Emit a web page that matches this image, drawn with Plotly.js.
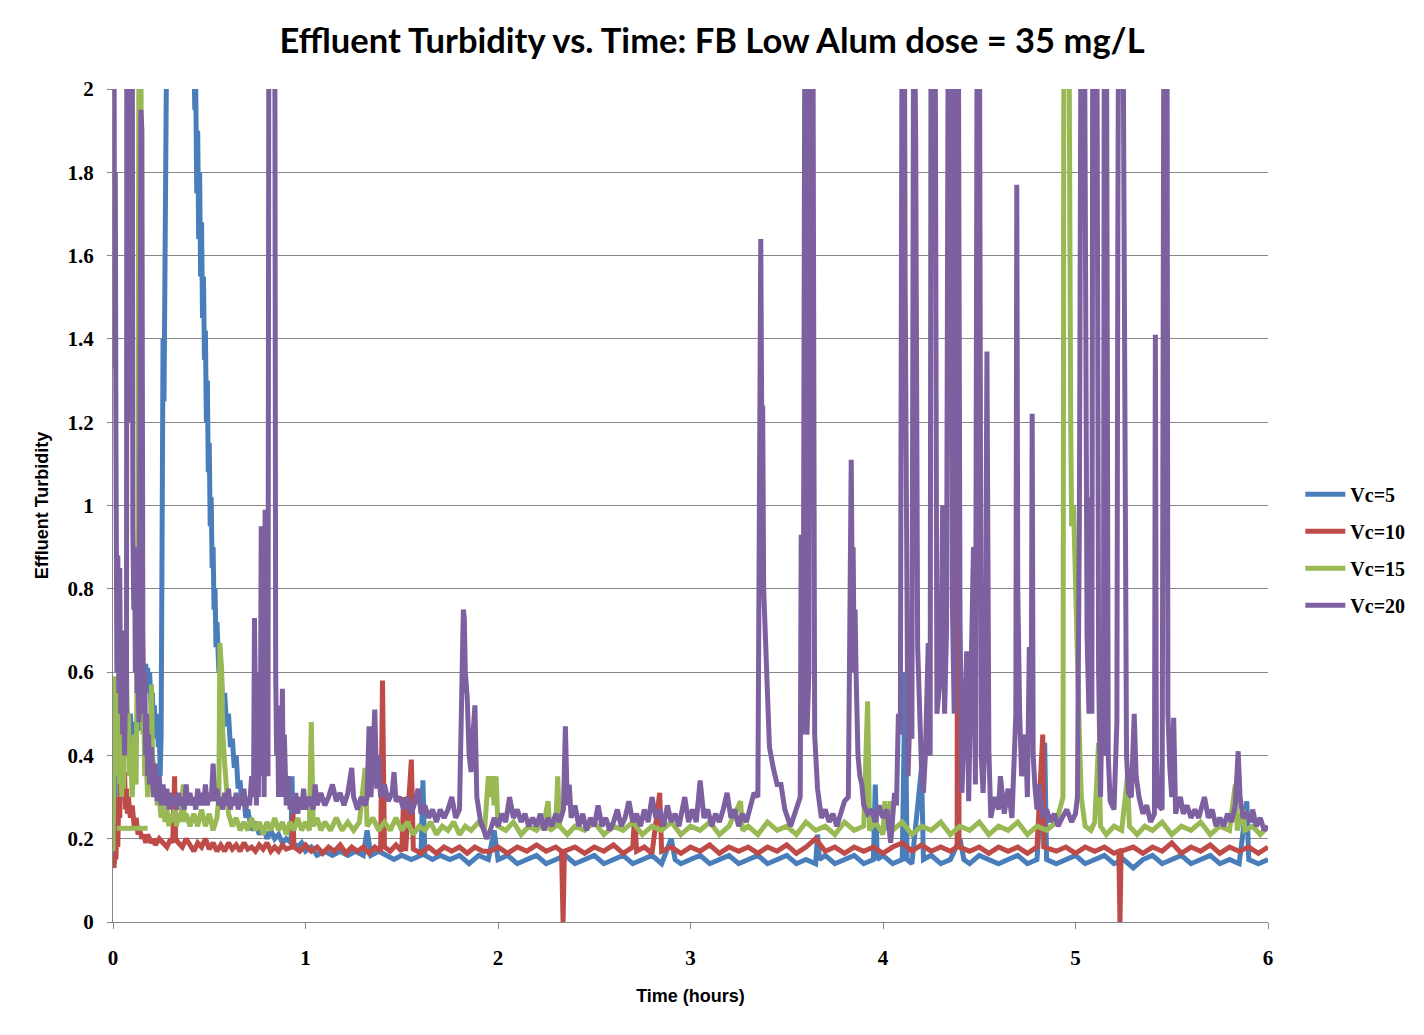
<!DOCTYPE html>
<html>
<head>
<meta charset="utf-8">
<title>Effluent Turbidity vs. Time</title>
<script src="https://cdn.plot.ly/plotly-3.0.1.min.js"></script>
<style>
  html, body { margin: 0; padding: 0; background: #ffffff; }
  #plot { width: 1424px; height: 1035px; }
</style>
</head>
<body>
<div id="plot"></div>
<script>
// Series names and colours (Excel 2007 palette)
const seriesNames = ['Vc=5', 'Vc=10', 'Vc=15', 'Vc=20']
const seriesColors = ['#4a7ebb', '#be4b48', '#98b954', '#7d60a0']

// Readings taken from the chart: [time (hours), effluent turbidity]
// values above 2 stand for spikes that run off the top of the axis
const vc5 = [
  [0,0.14],[0.01,0.3],[0.02,0.45],[0.03,0.5],[0.04,0.42],[0.05,0.55],[0.06,0.48],[0.07,0.52],
  [0.08,0.45],[0.09,0.5],[0.1,0.42],[0.11,0.48],[0.12,0.44],[0.13,0.5],[0.14,0.46],[0.15,0.52],
  [0.16,0.55],[0.17,0.62],[0.175,0.56],[0.18,0.61],[0.185,0.55],[0.19,0.6],[0.2,0.5],[0.205,0.55],
  [0.21,0.45],[0.215,0.52],[0.22,0.44],[0.23,0.5],[0.235,0.42],[0.24,0.48],[0.245,0.35],[0.25,0.45],
  [0.255,1.22],[0.26,1.4],[0.265,1.25],[0.27,1.5],[0.275,1.65],[0.28,2.2],[0.32,2.6],[0.38,2.6],
  [0.415,2.2],[0.42,2.0],[0.425,1.95],[0.43,2.0],[0.435,1.75],[0.44,1.9],[0.445,1.64],[0.45,1.8],
  [0.455,1.55],[0.46,1.68],[0.465,1.45],[0.47,1.55],[0.475,1.35],[0.48,1.42],[0.485,1.2],[0.49,1.3],
  [0.495,1.08],[0.5,1.15],[0.505,0.95],[0.51,1.02],[0.515,0.85],[0.52,0.9],[0.525,0.75],[0.53,0.8],
  [0.535,0.66],[0.54,0.72],[0.55,0.6],[0.56,0.62],[0.57,0.52],[0.58,0.55],[0.59,0.47],[0.6,0.5],
  [0.61,0.42],[0.62,0.44],[0.63,0.37],[0.64,0.4],[0.65,0.32],[0.66,0.34],[0.67,0.28],[0.68,0.3],
  [0.69,0.25],[0.7,0.27],[0.72,0.22],[0.74,0.24],[0.76,0.21],[0.78,0.23],[0.8,0.2],[0.82,0.22],
  [0.84,0.2],[0.86,0.21],[0.88,0.19],[0.9,0.2],[0.925,0.19],[0.93,0.35],[0.935,0.19],[0.96,0.18],
  [0.98,0.19],[1.0,0.17],[1.03,0.18],[1.06,0.16],[1.1,0.17],[1.14,0.16],[1.18,0.17],[1.22,0.16],
  [1.26,0.17],[1.3,0.16],[1.32,0.22],[1.34,0.16],[1.38,0.17],[1.42,0.16],[1.46,0.15],[1.5,0.16],
  [1.55,0.15],[1.6,0.16],[1.61,0.34],[1.62,0.16],[1.66,0.15],[1.7,0.16],[1.75,0.15],[1.8,0.16],
  [1.85,0.14],[1.9,0.16],[1.95,0.15],[1.98,0.22],[2.0,0.15],[2.05,0.16],[2.1,0.14],[2.15,0.15],
  [2.2,0.16],[2.25,0.14],[2.3,0.15],[2.35,0.16],[2.4,0.14],[2.45,0.15],[2.5,0.16],[2.55,0.14],
  [2.6,0.15],[2.65,0.16],[2.7,0.14],[2.75,0.15],[2.8,0.16],[2.85,0.14],[2.9,0.2],[2.92,0.15],
  [2.95,0.14],[3.0,0.15],[3.05,0.16],[3.1,0.14],[3.15,0.15],[3.2,0.16],[3.25,0.14],[3.3,0.15],
  [3.35,0.16],[3.4,0.14],[3.45,0.15],[3.5,0.16],[3.55,0.14],[3.6,0.15],[3.65,0.14],[3.66,0.21],
  [3.67,0.15],[3.7,0.16],[3.75,0.14],[3.8,0.15],[3.85,0.16],[3.9,0.14],[3.95,0.15],[3.96,0.33],
  [3.97,0.15],[4.0,0.16],[4.05,0.14],[4.1,0.15],[4.115,0.6],[4.125,0.15],[4.15,0.14],[4.2,0.37],
  [4.21,0.15],[4.25,0.16],[4.3,0.14],[4.35,0.15],[4.4,0.2],[4.42,0.15],[4.45,0.14],[4.5,0.16],
  [4.55,0.15],[4.6,0.14],[4.65,0.15],[4.7,0.16],[4.75,0.14],[4.8,0.15],[4.84,0.43],[4.85,0.15],
  [4.9,0.14],[4.95,0.15],[5.0,0.16],[5.05,0.14],[5.1,0.15],[5.15,0.16],[5.2,0.14],[5.25,0.15],
  [5.3,0.13],[5.35,0.15],[5.4,0.16],[5.45,0.14],[5.5,0.15],[5.55,0.16],[5.6,0.14],[5.65,0.15],
  [5.7,0.16],[5.75,0.14],[5.8,0.15],[5.85,0.14],[5.89,0.29],[5.9,0.15],[5.95,0.14],[6.0,0.15]
]

const vc10 = [
  [0,0.14],[0.005,0.13],[0.01,0.16],[0.015,0.15],[0.02,0.22],[0.025,0.18],[0.03,0.3],[0.035,0.25],
  [0.04,0.38],[0.045,0.32],[0.05,0.4],[0.055,0.3],[0.06,0.36],[0.065,0.27],[0.07,0.32],[0.075,0.26],
  [0.08,0.3],[0.09,0.25],[0.1,0.28],[0.11,0.23],[0.12,0.25],[0.13,0.21],[0.14,0.22],[0.15,0.2],
  [0.16,0.21],[0.17,0.19],[0.18,0.21],[0.19,0.2],[0.2,0.19],[0.21,0.2],[0.22,0.185],[0.24,0.2],
  [0.26,0.19],[0.28,0.18],[0.3,0.2],[0.31,0.19],[0.32,0.35],[0.325,0.2],[0.34,0.19],[0.36,0.18],
  [0.38,0.2],[0.4,0.185],[0.42,0.17],[0.44,0.19],[0.46,0.18],[0.48,0.2],[0.5,0.175],[0.52,0.19],
  [0.54,0.17],[0.56,0.185],[0.58,0.17],[0.6,0.19],[0.62,0.175],[0.64,0.185],[0.66,0.17],[0.68,0.19],
  [0.7,0.175],[0.72,0.18],[0.74,0.17],[0.76,0.185],[0.78,0.175],[0.8,0.19],[0.82,0.17],[0.84,0.18],
  [0.86,0.17],[0.88,0.185],[0.9,0.175],[0.93,0.18],[0.935,0.26],[0.94,0.18],[0.97,0.17],[1.0,0.185],
  [1.03,0.17],[1.06,0.18],[1.09,0.165],[1.12,0.18],[1.15,0.17],[1.18,0.185],[1.21,0.165],[1.24,0.18],
  [1.27,0.17],[1.3,0.18],[1.33,0.165],[1.36,0.18],[1.39,0.17],[1.4,0.58],[1.41,0.18],[1.44,0.17],
  [1.47,0.185],[1.5,0.17],[1.51,0.3],[1.52,0.17],[1.55,0.39],[1.56,0.175],[1.6,0.165],[1.64,0.18],
  [1.68,0.165],[1.72,0.18],[1.76,0.17],[1.8,0.18],[1.84,0.165],[1.88,0.18],[1.92,0.17],[1.96,0.17],
  [2.0,0.18],[2.05,0.165],[2.1,0.18],[2.15,0.17],[2.2,0.185],[2.25,0.17],[2.3,0.18],[2.33,0.17],
  [2.338,0.0],[2.345,0.17],[2.4,0.18],[2.45,0.165],[2.5,0.18],[2.55,0.17],[2.6,0.185],[2.65,0.165],
  [2.7,0.18],[2.71,0.26],[2.72,0.17],[2.76,0.18],[2.8,0.165],[2.84,0.31],[2.85,0.17],[2.9,0.18],
  [2.95,0.165],[3.0,0.18],[3.05,0.17],[3.1,0.185],[3.15,0.165],[3.2,0.18],[3.25,0.17],[3.3,0.18],
  [3.35,0.165],[3.4,0.18],[3.45,0.17],[3.5,0.185],[3.55,0.165],[3.6,0.18],[3.65,0.2],[3.7,0.17],
  [3.75,0.18],[3.8,0.165],[3.85,0.18],[3.9,0.17],[3.95,0.18],[4.0,0.165],[4.05,0.18],[4.1,0.19],
  [4.15,0.17],[4.2,0.185],[4.25,0.17],[4.3,0.18],[4.35,0.17],[4.385,0.18],[4.39,2.3],[4.395,0.18],
  [4.45,0.17],[4.5,0.18],[4.55,0.165],[4.6,0.18],[4.65,0.17],[4.7,0.18],[4.75,0.165],[4.8,0.18],
  [4.83,0.45],[4.835,0.18],[4.9,0.17],[4.95,0.18],[5.0,0.165],[5.05,0.18],[5.1,0.17],[5.15,0.18],
  [5.2,0.165],[5.225,0.17],[5.231,0.0],[5.237,0.17],[5.3,0.18],[5.35,0.165],[5.4,0.18],[5.45,0.17],
  [5.5,0.19],[5.55,0.165],[5.6,0.18],[5.65,0.17],[5.7,0.185],[5.75,0.165],[5.8,0.18],[5.85,0.17],
  [5.9,0.18],[5.95,0.165],[6.0,0.18]
]

// the Vc=15 log starts with a flat stretch that is drawn over the first readings
const vc15 = [
  [0.02,0.225],[0.18,0.225],[null,null],
  [0,0.17],[0.005,0.3],[0.01,0.59],[0.015,0.45],[0.02,0.55],[0.025,0.35],[0.03,0.5],[0.035,0.33],
  [0.04,0.42],[0.045,0.3],[0.05,0.45],[0.055,0.32],[0.06,0.55],[0.065,0.4],[0.07,0.62],[0.075,0.45],
  [0.08,0.5],[0.085,0.35],[0.09,0.42],[0.1,0.3],[0.11,0.45],[0.12,0.33],[0.125,0.55],[0.13,0.85],
  [0.135,2.3],[0.145,2.3],[0.15,0.6],[0.155,0.45],[0.16,0.5],[0.165,0.35],[0.17,0.42],[0.18,0.3],
  [0.19,0.35],[0.2,0.57],[0.205,0.4],[0.21,0.38],[0.215,0.3],[0.22,0.35],[0.23,0.28],[0.24,0.3],
  [0.25,0.25],[0.26,0.28],[0.27,0.24],[0.28,0.27],[0.29,0.23],[0.3,0.26],[0.31,0.24],[0.32,0.27],
  [0.33,0.23],[0.34,0.26],[0.35,0.24],[0.365,0.33],[0.37,0.24],[0.38,0.26],[0.4,0.23],[0.42,0.26],
  [0.44,0.23],[0.46,0.27],[0.48,0.23],[0.5,0.26],[0.52,0.22],[0.54,0.25],[0.55,0.3],[0.555,0.67],
  [0.565,0.6],[0.57,0.46],[0.58,0.38],[0.59,0.3],[0.6,0.26],[0.62,0.23],[0.64,0.25],[0.66,0.22],
  [0.68,0.24],[0.7,0.22],[0.72,0.25],[0.74,0.22],[0.76,0.24],[0.78,0.21],[0.8,0.24],[0.82,0.22],
  [0.84,0.25],[0.86,0.22],[0.88,0.24],[0.9,0.21],[0.92,0.24],[0.94,0.22],[0.96,0.25],[0.98,0.22],
  [1.0,0.24],[1.02,0.22],[1.03,0.48],[1.04,0.23],[1.06,0.25],[1.08,0.22],[1.1,0.24],[1.13,0.22],
  [1.16,0.25],[1.19,0.22],[1.22,0.24],[1.25,0.22],[1.28,0.24],[1.31,0.37],[1.32,0.23],[1.35,0.25],
  [1.38,0.22],[1.41,0.24],[1.44,0.22],[1.47,0.25],[1.5,0.22],[1.53,0.24],[1.56,0.21],[1.59,0.23],
  [1.62,0.22],[1.65,0.24],[1.68,0.21],[1.71,0.23],[1.74,0.22],[1.77,0.24],[1.8,0.21],[1.83,0.23],
  [1.86,0.22],[1.9,0.24],[1.93,0.22],[1.95,0.35],[1.96,0.3],[1.97,0.35],[1.98,0.28],[1.99,0.35],
  [2.0,0.23],[2.04,0.22],[2.08,0.24],[2.12,0.21],[2.16,0.23],[2.2,0.22],[2.24,0.24],[2.26,0.29],
  [2.27,0.22],[2.3,0.23],[2.31,0.35],[2.32,0.23],[2.36,0.21],[2.4,0.23],[2.45,0.22],[2.5,0.24],
  [2.55,0.21],[2.6,0.23],[2.65,0.22],[2.7,0.24],[2.75,0.21],[2.8,0.23],[2.85,0.22],[2.9,0.24],
  [2.95,0.21],[3.0,0.23],[3.05,0.22],[3.1,0.24],[3.15,0.21],[3.2,0.23],[3.26,0.29],[3.27,0.22],
  [3.3,0.23],[3.35,0.21],[3.4,0.24],[3.45,0.22],[3.5,0.23],[3.55,0.21],[3.6,0.24],[3.65,0.22],
  [3.7,0.23],[3.75,0.21],[3.8,0.24],[3.85,0.22],[3.9,0.23],[3.92,0.53],[3.93,0.22],[3.96,0.24],
  [4.0,0.21],[4.01,0.29],[4.02,0.22],[4.04,0.29],[4.05,0.22],[4.1,0.24],[4.15,0.21],[4.2,0.23],
  [4.25,0.22],[4.3,0.24],[4.35,0.21],[4.4,0.23],[4.45,0.22],[4.5,0.24],[4.55,0.21],[4.6,0.23],
  [4.65,0.22],[4.7,0.24],[4.75,0.21],[4.8,0.23],[4.85,0.22],[4.9,0.24],[4.935,0.3],[4.94,2.3],
  [4.965,2.3],[4.975,1.2],[4.98,0.95],[4.99,1.0],[5.0,0.8],[5.005,0.66],[5.01,0.62],[5.02,0.45],
  [5.03,0.3],[5.05,0.23],[5.08,0.22],[5.1,0.24],[5.12,0.43],[5.13,0.23],[5.16,0.21],[5.2,0.23],
  [5.24,0.22],[5.27,0.35],[5.28,0.23],[5.32,0.21],[5.36,0.23],[5.4,0.22],[5.45,0.24],[5.5,0.21],
  [5.55,0.23],[5.6,0.22],[5.65,0.24],[5.7,0.21],[5.75,0.23],[5.8,0.22],[5.83,0.33],[5.84,0.22],
  [5.87,0.27],[5.88,0.22],[5.92,0.23],[5.96,0.21],[6.0,0.23]
]

const vc20 = [
  [0,2.4],[0.005,2.4],[0.008,1.33],[0.012,1.8],[0.015,1.2],[0.02,0.6],[0.025,0.88],[0.03,0.55],
  [0.035,0.85],[0.04,0.5],[0.045,0.7],[0.05,0.45],[0.055,0.6],[0.06,0.4],[0.065,0.55],[0.07,0.5],
  [0.072,2.4],[0.09,2.4],[0.092,1.2],[0.095,2.4],[0.1,2.4],[0.103,0.95],[0.108,0.75],[0.112,0.9],
  [0.116,0.6],[0.12,0.75],[0.125,0.55],[0.13,0.6],[0.135,0.48],[0.14,1.0],[0.145,1.95],[0.15,1.9],
  [0.155,0.7],[0.16,0.5],[0.165,0.6],[0.17,0.4],[0.175,0.5],[0.18,0.35],[0.185,0.45],[0.19,0.33],
  [0.2,0.42],[0.21,0.3],[0.22,0.38],[0.23,0.29],[0.24,0.35],[0.25,0.28],[0.26,0.33],[0.27,0.28],
  [0.28,0.32],[0.29,0.27],[0.3,0.31],[0.31,0.28],[0.32,0.3],[0.33,0.27],[0.34,0.31],[0.35,0.28],
  [0.36,0.3],[0.37,0.27],[0.38,0.33],[0.39,0.28],[0.4,0.31],[0.41,0.28],[0.42,0.3],[0.43,0.27],
  [0.44,0.32],[0.45,0.28],[0.46,0.31],[0.47,0.28],[0.48,0.33],[0.49,0.28],[0.5,0.31],[0.51,0.29],
  [0.52,0.38],[0.53,0.29],[0.54,0.32],[0.55,0.28],[0.56,0.3],[0.57,0.27],[0.58,0.31],[0.59,0.28],
  [0.6,0.32],[0.61,0.27],[0.62,0.3],[0.63,0.28],[0.64,0.31],[0.65,0.27],[0.66,0.3],[0.67,0.28],
  [0.68,0.32],[0.69,0.27],[0.7,0.3],[0.71,0.28],[0.72,0.35],[0.73,0.3],[0.735,0.73],[0.74,0.35],
  [0.745,0.28],[0.75,0.5],[0.755,0.3],[0.76,0.6],[0.765,0.35],[0.77,0.95],[0.775,0.45],[0.78,0.7],
  [0.785,0.3],[0.79,0.99],[0.795,0.4],[0.8,0.6],[0.805,0.35],[0.81,2.4],[0.84,2.4],[0.845,0.6],
  [0.85,0.4],[0.855,0.5],[0.86,0.3],[0.87,0.52],[0.875,0.35],[0.88,0.56],[0.885,0.3],[0.89,0.45],
  [0.9,0.28],[0.91,0.35],[0.92,0.27],[0.93,0.3],[0.94,0.26],[0.95,0.31],[0.96,0.26],[0.97,0.3],
  [0.98,0.27],[0.99,0.32],[1.0,0.27],[1.02,0.3],[1.04,0.27],[1.05,0.33],[1.06,0.28],[1.08,0.31],
  [1.1,0.28],[1.12,0.3],[1.14,0.33],[1.16,0.29],[1.18,0.31],[1.2,0.28],[1.22,0.31],[1.24,0.37],
  [1.25,0.3],[1.27,0.27],[1.29,0.3],[1.31,0.28],[1.32,0.3],[1.33,0.47],[1.34,0.3],[1.35,0.4],
  [1.36,0.51],[1.37,0.32],[1.38,0.4],[1.39,0.3],[1.41,0.33],[1.43,0.29],[1.45,0.31],[1.46,0.36],
  [1.47,0.29],[1.49,0.3],[1.51,0.27],[1.53,0.3],[1.55,0.26],[1.57,0.29],[1.585,0.32],[1.6,0.26],
  [1.62,0.28],[1.64,0.25],[1.66,0.27],[1.68,0.24],[1.7,0.27],[1.72,0.25],[1.74,0.27],[1.76,0.3],
  [1.78,0.25],[1.8,0.27],[1.81,0.5],[1.82,0.75],[1.825,0.73],[1.83,0.6],[1.84,0.54],[1.85,0.4],
  [1.86,0.36],[1.87,0.45],[1.88,0.52],[1.89,0.3],[1.9,0.27],[1.91,0.24],[1.92,0.23],[1.94,0.2],
  [1.96,0.22],[1.98,0.25],[2.0,0.23],[2.02,0.26],[2.04,0.24],[2.06,0.3],[2.08,0.25],[2.1,0.27],
  [2.12,0.24],[2.14,0.26],[2.16,0.23],[2.18,0.25],[2.2,0.23],[2.22,0.26],[2.24,0.22],[2.26,0.25],
  [2.28,0.23],[2.3,0.26],[2.32,0.24],[2.34,0.27],[2.35,0.47],[2.36,0.28],[2.37,0.33],[2.38,0.25],
  [2.4,0.28],[2.42,0.23],[2.44,0.26],[2.46,0.22],[2.48,0.25],[2.5,0.23],[2.52,0.28],[2.54,0.23],
  [2.56,0.25],[2.58,0.22],[2.6,0.24],[2.62,0.27],[2.64,0.23],[2.66,0.25],[2.68,0.29],[2.7,0.24],
  [2.72,0.26],[2.74,0.23],[2.76,0.27],[2.78,0.24],[2.8,0.3],[2.82,0.25],[2.84,0.27],[2.86,0.23],
  [2.88,0.28],[2.9,0.24],[2.92,0.26],[2.94,0.23],[2.97,0.3],[2.99,0.24],[3.01,0.27],[3.03,0.24],
  [3.05,0.34],[3.07,0.25],[3.09,0.27],[3.11,0.23],[3.13,0.26],[3.15,0.24],[3.17,0.27],[3.19,0.31],
  [3.21,0.25],[3.23,0.27],[3.25,0.23],[3.27,0.26],[3.29,0.24],[3.31,0.28],[3.33,0.31],[3.35,0.3],
  [3.355,1.0],[3.36,1.58],[3.365,1.64],[3.37,1.2],[3.375,1.24],[3.38,0.8],[3.39,0.66],[3.4,0.48],
  [3.41,0.42],[3.43,0.37],[3.45,0.33],[3.47,0.33],[3.49,0.27],[3.52,0.23],[3.54,0.26],[3.56,0.28],
  [3.57,0.3],[3.575,0.93],[3.585,0.45],[3.595,2.4],[3.605,0.45],[3.615,0.6],[3.62,2.4],[3.635,2.4],
  [3.645,0.45],[3.66,0.32],[3.68,0.25],[3.7,0.27],[3.72,0.24],[3.74,0.26],[3.76,0.23],[3.78,0.26],
  [3.8,0.29],[3.82,0.3],[3.835,1.11],[3.84,0.8],[3.845,0.9],[3.85,0.6],[3.855,0.75],[3.86,0.6],
  [3.87,0.4],[3.88,0.35],[3.89,0.33],[3.9,0.28],[3.92,0.26],[3.94,0.27],[3.96,0.24],[3.98,0.28],
  [4.0,0.25],[4.02,0.27],[4.04,0.19],[4.06,0.31],[4.07,0.28],[4.08,0.5],[4.09,0.45],[4.1,2.4],
  [4.11,2.4],[4.115,1.55],[4.12,1.0],[4.13,0.35],[4.14,0.5],[4.15,0.44],[4.16,2.4],[4.17,1.86],
  [4.18,0.66],[4.19,0.45],[4.2,0.37],[4.21,0.31],[4.22,0.4],[4.235,0.67],[4.245,0.4],[4.25,2.4],
  [4.27,2.4],[4.28,0.5],[4.29,0.57],[4.3,0.6],[4.31,1.0],[4.32,0.5],[4.33,0.7],[4.34,2.4],
  [4.355,2.4],[4.36,0.77],[4.37,0.5],[4.375,2.4],[4.39,2.4],[4.4,0.73],[4.41,0.31],[4.42,0.45],
  [4.435,0.65],[4.445,0.29],[4.455,0.5],[4.47,0.9],[4.48,0.33],[4.49,2.4],[4.5,2.4],[4.51,0.4],
  [4.52,0.31],[4.53,0.45],[4.54,1.37],[4.55,0.41],[4.56,0.25],[4.58,0.3],[4.6,0.27],[4.61,0.35],
  [4.63,0.26],[4.65,0.32],[4.67,0.25],[4.69,0.5],[4.695,1.77],[4.7,0.8],[4.71,0.5],[4.72,0.35],
  [4.74,0.45],[4.75,0.3],[4.76,0.66],[4.77,0.5],[4.775,1.22],[4.78,0.4],[4.79,0.32],[4.8,0.27],
  [4.81,0.33],[4.83,0.25],[4.85,0.27],[4.87,0.24],[4.89,0.26],[4.91,0.23],[4.93,0.25],[4.955,0.27],
  [4.98,0.24],[5.0,0.26],[5.01,0.3],[5.02,0.96],[5.03,2.4],[5.045,2.4],[5.06,0.69],[5.07,0.5],
  [5.075,1.02],[5.085,0.5],[5.09,2.4],[5.11,2.4],[5.12,0.6],[5.13,0.3],[5.14,0.6],[5.145,0.4],
  [5.15,2.4],[5.16,2.4],[5.17,0.4],[5.18,0.29],[5.2,0.27],[5.215,0.48],[5.22,1.66],[5.225,2.4],
  [5.245,2.4],[5.255,1.34],[5.265,0.4],[5.275,0.31],[5.29,0.3],[5.305,0.5],[5.315,0.35],[5.33,0.3],
  [5.35,0.26],[5.37,0.28],[5.39,0.24],[5.41,0.26],[5.415,1.41],[5.42,0.4],[5.43,0.28],[5.45,0.27],
  [5.46,2.4],[5.475,2.4],[5.48,0.5],[5.49,0.37],[5.5,0.3],[5.51,0.49],[5.52,0.26],[5.53,0.28],
  [5.545,0.3],[5.56,0.26],[5.58,0.28],[5.6,0.25],[5.62,0.27],[5.64,0.25],[5.67,0.3],[5.69,0.25],
  [5.71,0.27],[5.73,0.23],[5.75,0.25],[5.77,0.23],[5.79,0.26],[5.81,0.24],[5.83,0.28],[5.845,0.41],
  [5.855,0.3],[5.87,0.25],[5.89,0.26],[5.91,0.24],[5.92,0.27],[5.94,0.23],[5.96,0.25],[5.98,0.22],
  [6.0,0.23]
]

const allSeries = [vc5, vc10, vc15, vc20]

// Axis ticks
const xTicks = [0, 1, 2, 3, 4, 5, 6]
const yTicks = [0, 0.2, 0.4, 0.6, 0.8, 1, 1.2, 1.4, 1.6, 1.8, 2]

// fonts: the title in a Calibri-like face, numbers and legend in a bold serif, axis names in a bold sans
const titleFace = 'Lato, "Liberation Sans", Arial, sans-serif'
const numberFace = '"Liberation Serif", "DejaVu Serif", serif'
const labelFace = '"Liberation Sans", Arial, sans-serif'
const gridGrey = '#868686'

function draw() {
  try {
    var data = []
    for (var i = 0; i < allSeries.length; i++) {
      var pts = allSeries[i]
      data.push({
        x: pts.map(function (p) { return p[0] }),
        y: pts.map(function (p) { return p[1] }),
        name: seriesNames[i],
        legendgroup: 'g' + i,
        type: 'scatter',
        mode: 'lines',
        connectgaps: false,
        hoverinfo: 'skip',
        line: { color: seriesColors[i], width: 5 }
      })
    }

    var layout = {
      width: 1424,
      height: 1035,
      paper_bgcolor: '#ffffff',
      plot_bgcolor: '#ffffff',
      margin: { l: 113, r: 156, t: 89, b: 113 },
      font: { family: titleFace, color: '#000000' },
      title: {
        text: 'Effluent Turbidity vs. Time: FB Low Alum dose = 35 mg/L',
        font: { family: titleFace, size: 34.5, weight: 'bold', color: '#000000' },
        x: 0.5, xref: 'container', xanchor: 'center',
        y: 0.96, yref: 'container', yanchor: 'middle'
      },
      xaxis: {
        range: [0, 6],
        tickvals: xTicks,
        ticktext: xTicks.map(String),
        showgrid: false,
        zeroline: false,
        showline: true,
        linecolor: gridGrey,
        linewidth: 1,
        ticks: 'outside',
        ticklen: 6,
        tickcolor: gridGrey,
        ticklabelstandoff: 11,
        tickfont: { family: numberFace, size: 21, weight: 'bold', color: '#000000' },
        title: {
          text: 'Time (hours)',
          font: { family: labelFace, size: 18, weight: 'bold', color: '#000000' },
          standoff: 20
        }
      },
      yaxis: {
        range: [0, 2],
        tickvals: yTicks,
        ticktext: yTicks.map(String),
        showgrid: true,
        gridcolor: gridGrey,
        gridwidth: 1,
        zeroline: false,
        showline: true,
        linecolor: gridGrey,
        linewidth: 1,
        ticks: 'outside',
        ticklen: 5,
        tickcolor: gridGrey,
        ticklabelstandoff: 9,
        tickfont: { family: numberFace, size: 21, weight: 'bold', color: '#000000' },
        title: {
          text: 'Effluent Turbidity',
          font: { family: labelFace, size: 18, weight: 'bold', color: '#000000' },
          standoff: 14
        }
      },
      showlegend: true,
      legend: {
        x: 1.028, xanchor: 'left',
        y: 0.447, yanchor: 'middle',
        bgcolor: 'rgba(0,0,0,0)',
        font: { family: numberFace, size: 20, weight: 'bold', color: '#000000' },
        itemwidth: 40,
        tracegroupgap: 8,
        traceorder: 'grouped'
      }
    }

    Plotly.newPlot('plot', data, layout, { displayModeBar: false, staticPlot: true })
  }
  catch (err) {
    console.error(err)
  }
}

draw()
</script>
</body>
</html>
